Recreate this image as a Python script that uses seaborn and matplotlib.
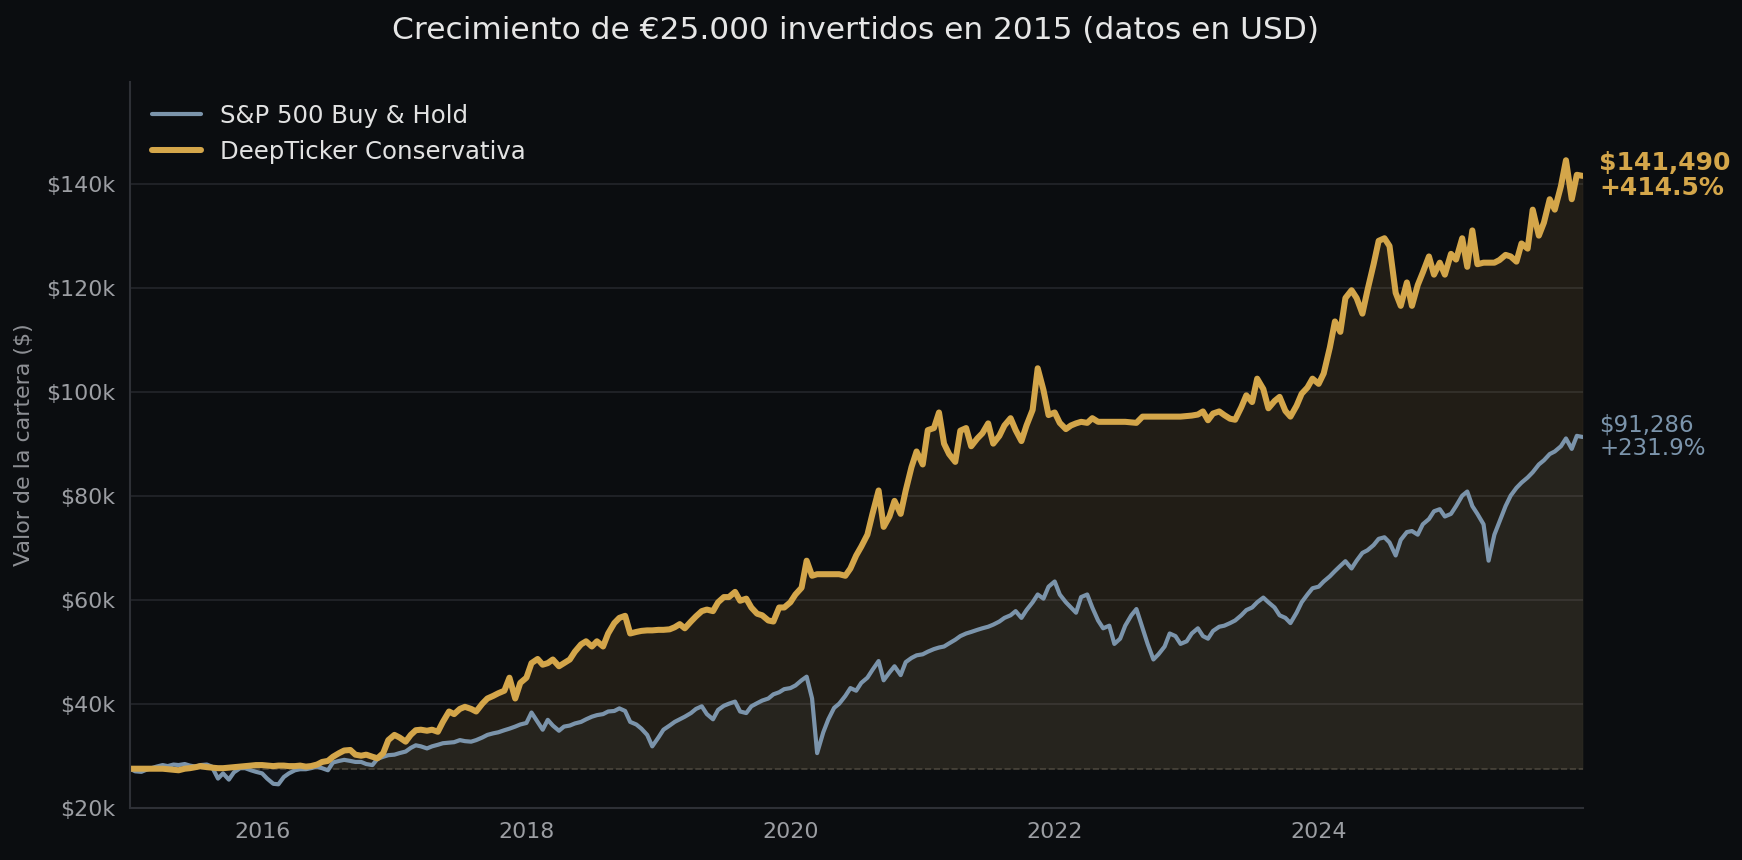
import pandas as pd
import matplotlib
matplotlib.use("Agg")
import matplotlib.pyplot as plt
import matplotlib.dates as mdates
from matplotlib.ticker import FuncFormatter
import seaborn as sns

# valores leídos a mitad y principio de cada mes (miles de USD), ene 2015 - dic 2025
deepticker_k = [
    27.5, 27.5, 27.5, 27.5, 27.5, 27.5, 27.5, 27.4, 27.3, 27.2, 27.5, 27.6, 27.8, 28.0, 27.8, 27.7, 27.6, 27.6, 27.7, 27.8, 27.9, 28.0, 28.1, 28.2,
    28.2, 28.1, 28.0, 28.1, 28.1, 28.0, 28.0, 28.1, 27.9, 28.0, 28.3, 28.8, 29.0, 29.8, 30.5, 31.0, 31.1, 30.2, 30.0, 30.2, 29.8, 29.5, 30.5, 33.0,
    34.0, 33.5, 32.7, 34.0, 34.9, 35.0, 34.8, 35.0, 34.6, 36.5, 38.5, 38.0, 39.0, 39.4, 39.0, 38.5, 40.0, 41.0, 41.5, 42.0, 42.5, 45.0, 41.0, 44.0,
    45.0, 47.8, 48.6, 47.5, 47.8, 48.5, 47.2, 47.8, 48.5, 50.0, 51.4, 52.0, 51.0, 52.0, 51.0, 53.5, 55.5, 56.5, 56.9, 53.5, 53.8, 54.0, 54.1, 54.1,
    54.2, 54.2, 54.3, 54.7, 55.3, 54.5, 55.8, 56.8, 57.8, 58.1, 57.8, 59.5, 60.5, 60.5, 61.5, 59.8, 60.2, 58.5, 57.3, 57.0, 56.0, 55.8, 58.5, 58.5,
    59.5, 61.0, 62.3, 67.5, 64.6, 64.9, 64.9, 64.9, 64.9, 64.9, 64.6, 66.0, 68.5, 70.2, 72.5, 76.5, 81.0, 74.0, 76.0, 79.0, 76.5, 81.0, 85.5, 88.5,
    86.0, 92.6, 93.0, 96.0, 90.0, 88.0, 86.5, 92.5, 93.0, 89.5, 91.0, 92.0, 93.9, 90.0, 91.5, 93.5, 94.9, 92.6, 90.5, 93.5, 96.5, 104.5, 100.3, 95.5,
    96.0, 94.0, 92.8, 93.5, 93.9, 94.2, 94.0, 94.9, 94.2, 94.2, 94.2, 94.2, 94.2, 94.2, 94.1, 94.0, 95.2, 95.2, 95.2, 95.2, 95.2, 95.2, 95.2, 95.2,
    95.3, 95.4, 95.6, 96.2, 94.5, 95.8, 96.2, 95.5, 94.8, 94.6, 97.0, 99.3, 98.0, 102.5, 100.5, 96.8, 98.2, 99.0, 96.3, 95.2, 97.3, 99.6, 100.8, 102.5,
    101.5, 103.5, 108.5, 113.5, 111.5, 118.0, 119.5, 118.0, 115.0, 119.5, 124.5, 129.0, 129.5, 128.0, 119.0, 116.5, 121.0, 116.5, 120.5, 122.9, 126.0, 122.5, 124.8, 122.5,
    126.5, 125.4, 129.5, 124.0, 131.0, 124.5, 124.8, 124.8, 124.8, 125.3, 126.3, 126.0, 125.0, 128.5, 127.5, 135.0, 130.0, 132.5, 137.0, 135.0, 139.5, 144.5, 137.0, 141.7,
    141.49,
]
sp500_k = [
    27.5, 27.0, 26.9, 27.3, 27.6, 27.9, 28.2, 28.0, 28.3, 28.2, 28.4, 28.1, 27.9, 28.2, 28.3, 27.9, 25.6, 26.6, 25.4, 26.8, 27.6, 27.6, 27.2, 26.9,
    26.6, 25.6, 24.6, 24.5, 25.9, 26.6, 27.2, 27.4, 27.4, 27.6, 27.9, 27.6, 27.2, 28.7, 29.0, 29.2, 29.0, 28.8, 28.8, 28.4, 28.2, 29.4, 29.8, 30.1,
    30.2, 30.5, 30.8, 31.5, 32.0, 31.8, 31.4, 31.8, 32.1, 32.4, 32.5, 32.6, 33.0, 32.8, 32.7, 33.0, 33.5, 34.0, 34.3, 34.5, 34.9, 35.2, 35.6, 36.0,
    36.3, 38.3, 36.5, 35.0, 36.9, 35.8, 34.8, 35.6, 35.8, 36.2, 36.5, 37.0, 37.5, 37.8, 38.0, 38.5, 38.6, 39.1, 38.6, 36.5, 36.0, 35.2, 34.0, 31.8,
    33.5, 35.0, 35.8, 36.5, 37.0, 37.5, 38.2, 39.0, 39.5, 38.0, 37.0, 38.8, 39.6, 40.0, 40.4, 38.5, 38.2, 39.5, 40.1, 40.6, 41.0, 41.8, 42.2, 42.8,
    43.0, 43.5, 44.5, 45.2, 41.0, 30.5, 34.5, 37.0, 39.2, 40.0, 41.5, 43.0, 42.5, 44.0, 45.0, 46.5, 48.2, 44.5, 46.0, 47.2, 45.5, 48.0, 48.8, 49.3,
    49.5, 50.0, 50.5, 50.8, 51.0, 51.6, 52.3, 53.0, 53.5, 53.8, 54.2, 54.5, 54.8, 55.2, 55.8, 56.5, 57.0, 57.8, 56.5, 58.0, 59.5, 61.0, 60.2, 62.5,
    63.5, 61.0, 59.5, 58.5, 57.5, 60.5, 61.0, 58.5, 56.0, 54.5, 55.0, 51.5, 52.5, 55.0, 57.0, 58.2, 54.5, 51.5, 48.5, 49.5, 51.0, 53.5, 53.0, 51.5,
    52.0, 53.5, 54.5, 53.0, 52.5, 54.0, 54.8, 55.0, 55.5, 56.0, 57.0, 58.0, 58.5, 59.5, 60.4, 59.5, 58.5, 57.0, 56.5, 55.5, 57.5, 59.5, 61.0, 62.2,
    62.5, 63.5, 64.5, 65.5, 66.5, 67.4, 66.0, 67.5, 69.0, 69.5, 70.5, 71.7, 72.0, 71.0, 68.5, 71.5, 73.0, 73.2, 72.5, 74.5, 75.5, 77.0, 77.4, 76.0,
    76.5, 78.0, 80.0, 80.8, 78.0, 76.5, 74.5, 67.5, 72.5, 75.0, 78.0, 80.0, 81.5, 82.5, 83.5, 84.5, 86.0, 86.8, 88.0, 88.5, 89.5, 91.0, 89.0, 91.5,
    91.286,
]
initial_value = 27500
label_sp = "S&P 500 Buy & Hold"
label_dt = "DeepTicker Conservativa"
title = "Crecimiento de €25.000 invertidos en 2015 (datos en USD)"
ylabel = "Valor de la cartera ($)"
yticks_k = [20, 40, 60, 80, 100, 120, 140]

dates = list(pd.date_range("2015-01-01", "2025-12-15", freq="SMS")) + [pd.Timestamp("2025-12-31")]
df = pd.DataFrame({
    "fecha": dates,
    "sp500": [v * 1000 for v in sp500_k],
    "deepticker": [v * 1000 for v in deepticker_k],
})

BG = "#0b0d10"
GOLD = "#d4a64a"
BLUE = "#7b94ab"
GRID = "#24262b"
TICK = "#9c9ea3"

sns.set_theme(style="dark", rc={
    "figure.facecolor": BG, "axes.facecolor": BG, "savefig.facecolor": BG,
    "axes.edgecolor": "#2e3036", "text.color": "#e6e6e6",
    "xtick.color": TICK, "ytick.color": TICK, "axes.labelcolor": "#8e9095",
})
plt.rcParams["font.family"] = ["DejaVu Sans"]

fig = plt.figure(figsize=(1742 / 150, 860 / 150), dpi=150)
ax = fig.add_axes([0.0747, 0.0608, 0.9085 - 0.0747, 0.905 - 0.0608])

# areas bajo las curvas
ax.fill_between(df["fecha"], df["sp500"], initial_value, color=BLUE, alpha=0.06, lw=0)
ax.fill_between(df["fecha"], df["deepticker"], initial_value, color=GOLD, alpha=0.11,
                edgecolor="#4a4236", lw=0.8)
ax.axhline(initial_value, color="#5a5448", lw=0.8, ls="--", alpha=0.7)

sns.lineplot(data=df, x="fecha", y="sp500", ax=ax, color=BLUE, lw=2.0, label=label_sp)
sns.lineplot(data=df, x="fecha", y="deepticker", ax=ax, color=GOLD, lw=2.9, label=label_dt)

ax.set_xlim(df["fecha"].iloc[0], df["fecha"].iloc[-1])
ax.set_ylim(20000, 159600)
ax.set_yticks([v * 1000 for v in yticks_k])
ax.yaxis.set_major_formatter(FuncFormatter(lambda v, p: f"${v / 1000:.0f}k"))
ax.xaxis.set_major_locator(mdates.YearLocator(2))
ax.xaxis.set_major_formatter(mdates.DateFormatter("%Y"))
ax.tick_params(axis="both", labelsize=10.6, length=3.5, width=1, colors=TICK)
ax.set_xlabel("")
ax.set_ylabel(ylabel, fontsize=10.6, labelpad=6)

ax.grid(axis="y", color=GRID, lw=0.8)
ax.grid(axis="x", visible=False)
ax.set_axisbelow(True)
sns.despine(ax=ax)
for s in ["left", "bottom"]:
    ax.spines[s].set_color("#2e3036")
    ax.spines[s].set_linewidth(1.0)

leg = ax.legend(loc="upper left", frameon=False, fontsize=11.7)
for t in leg.get_texts():
    t.set_color("#e2e2e2")

# valores finales
last = df.iloc[-1]
for col, color, weight in [("deepticker", GOLD, "bold"), ("sp500", BLUE, "normal")]:
    val = last[col]
    pct = (val / initial_value - 1) * 100
    ax.annotate(f"${val:,.0f}\n+{pct:.1f}%", xy=(last["fecha"], val), xytext=(8, 0),
                textcoords="offset points", va="center", ha="left", color=color,
                fontsize=12 if weight == "bold" else 11, fontweight=weight,
                annotation_clip=False, linespacing=1.05)

fig.text(0.491, 0.964, title, ha="center", va="center", fontsize=15, color="#e6e6e6")

fig.savefig("out.png", dpi=150, facecolor=BG)
